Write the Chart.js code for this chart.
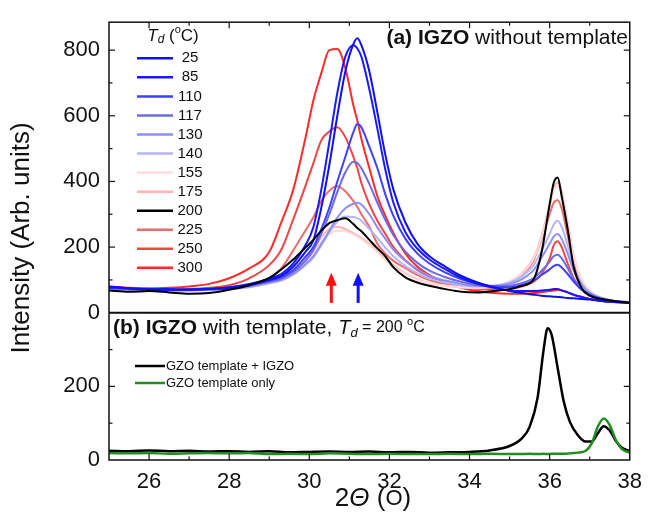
<!DOCTYPE html>
<html lang="en">
<head>
<meta charset="UTF-8" />
<title>IGZO XRD</title>
<style>
  body { margin: 0; background: #fff; }
  canvas { display: block; }
</style>
<script src="https://cdn.jsdelivr.net/npm/chart.js"></script>
</head>
<body>
<canvas id="xrdChart" width="651" height="514"></canvas>
<script>
// ---- panel (a): IGZO without template, one curve per deposition temperature
const twoThetaA = [25, 25.5, 26, 26.5, 27, 27.5, 28, 28.5, 29, 29.3, 29.6, 29.9, 30.1, 30.3, 30.5, 30.7, 30.9,
  31.1, 31.2, 31.3, 31.5, 31.7, 31.9, 32.1, 32.4, 32.7, 33, 33.4, 33.8, 34.2, 34.6, 35,
  35.3, 35.6, 35.8, 36, 36.1, 36.2, 36.3, 36.45, 36.6, 36.8, 37, 37.3, 37.6, 38];

const td25  = [78, 74, 72, 70, 71, 72, 76, 85, 100, 112, 140, 185, 220, 320, 450, 600, 735, 818, 836, 815, 735, 610, 480, 375, 275, 210, 172, 140, 112, 92, 78, 66, 60, 55, 52, 50, 49, 48, 47, 45, 44, 42, 40, 36, 33, 30];
const td85  = [80, 75, 73, 72, 70, 73, 78, 88, 104, 118, 150, 205, 260, 375, 520, 670, 780, 815, 805, 780, 680, 560, 435, 335, 245, 195, 162, 132, 106, 88, 76, 68, 66, 66, 68, 70, 72, 72, 68, 62, 55, 48, 42, 36, 33, 30];
const td110 = [76, 73, 71, 70, 70, 72, 75, 84, 98, 108, 130, 170, 200, 255, 320, 400, 475, 550, 575, 565, 505, 440, 360, 295, 225, 180, 150, 122, 102, 88, 80, 78, 84, 98, 115, 132, 142, 146, 138, 118, 95, 70, 55, 42, 36, 32];
const td117 = [75, 72, 70, 69, 70, 71, 74, 82, 95, 104, 124, 158, 190, 240, 300, 368, 428, 460, 456, 440, 392, 335, 282, 236, 186, 152, 128, 108, 94, 84, 80, 82, 90, 106, 128, 156, 172, 177, 166, 136, 102, 72, 55, 42, 35, 30];
const td130 = [74, 71, 70, 68, 69, 70, 73, 80, 92, 100, 118, 148, 172, 210, 250, 290, 318, 332, 335, 330, 300, 260, 225, 192, 158, 132, 112, 98, 88, 82, 82, 88, 102, 130, 168, 210, 232, 240, 225, 180, 128, 84, 60, 44, 36, 30];
const td140 = [73, 70, 69, 68, 68, 70, 72, 78, 90, 98, 116, 145, 168, 205, 245, 278, 293, 292, 288, 280, 255, 228, 198, 172, 142, 120, 104, 92, 84, 80, 82, 92, 110, 145, 190, 240, 268, 280, 262, 205, 140, 90, 62, 45, 36, 30];
const td155 = [72, 69, 68, 67, 68, 69, 72, 78, 90, 100, 120, 155, 180, 215, 240, 250, 248, 238, 232, 224, 206, 184, 160, 140, 118, 100, 90, 82, 78, 76, 80, 94, 118, 165, 230, 320, 370, 385, 360, 270, 170, 100, 66, 46, 36, 30];
const td175 = [72, 70, 68, 67, 68, 70, 73, 80, 93, 104, 126, 165, 192, 230, 255, 262, 255, 242, 236, 228, 210, 188, 165, 145, 120, 102, 90, 82, 77, 75, 80, 95, 120, 168, 235, 330, 380, 396, 368, 275, 172, 100, 66, 46, 36, 30];
const td200 = [68, 64, 66, 62, 58, 60, 70, 84, 106, 132, 162, 198, 222, 250, 273, 282, 288, 270, 258, 248, 222, 196, 172, 138, 108, 92, 82, 72, 64, 62, 66, 72, 82, 102, 185, 330, 395, 412, 355, 255, 140, 75, 52, 42, 36, 30];
const td225 = [74, 71, 70, 68, 70, 72, 76, 86, 104, 135, 190, 250, 290, 340, 372, 385, 370, 340, 322, 300, 262, 210, 180, 158, 136, 115, 100, 88, 80, 74, 78, 92, 115, 160, 225, 300, 335, 343, 318, 235, 150, 92, 62, 45, 36, 30];
const td250 = [76, 72, 71, 70, 72, 76, 84, 105, 145, 192, 285, 385, 455, 525, 552, 565, 535, 475, 440, 395, 330, 280, 240, 200, 160, 130, 110, 92, 80, 72, 70, 72, 80, 95, 118, 165, 205, 218, 200, 150, 105, 70, 52, 42, 35, 30];
const td300 = [80, 76, 74, 76, 80, 88, 105, 135, 185, 275, 375, 530, 646, 730, 800, 803, 745, 632, 585, 530, 440, 355, 295, 243, 180, 140, 115, 92, 76, 66, 60, 58, 58, 60, 63, 66, 68, 70, 68, 62, 55, 48, 42, 36, 33, 30];

const tdLabels = ['25', '85', '110', '117', '130', '140', '155', '175', '200', '225', '250', '300'];
const tdColors = ['#1010f0', '#1a1aff', '#4040ff', '#6b6be8', '#8f8ff2', '#b5b5f7',
  '#ffdcdc', '#ffb3b3', '#000000', '#ec6b6b', '#f04545', '#ff2a2a'];
const seriesA = [td25, td85, td110, td117, td130, td140, td155, td175, td200, td225, td250, td300];

// ---- panel (b): IGZO on GZO template, Td = 200 C
const twoThetaB = [25, 25.5, 26, 26.5, 27, 27.5, 28, 28.5, 29, 29.5, 30, 30.5, 31, 31.5, 32, 32.5, 33, 33.5, 34, 34.5,
  35, 35.3, 35.5, 35.7, 35.85, 35.95, 36.05, 36.2, 36.35, 36.5, 36.7, 36.9, 37.05, 37.2, 37.35, 37.5, 37.65, 37.8, 38];
const templatePlusIgzo = [25, 24, 26, 24, 25, 23, 24, 22, 24, 21, 22, 23, 22, 23, 21, 22, 20, 21, 22, 26,
  38, 58, 90, 170, 300, 358, 340, 250, 160, 105, 68, 50, 50, 72, 92, 80, 52, 34, 24];
const templateOnly = [19, 18, 19, 17, 18, 19, 18, 19, 16, 17, 16, 18, 17, 16, 17, 16, 16, 17, 16, 17,
  16, 16, 17, 16, 17, 16, 17, 17, 17, 18, 20, 25, 45, 90, 113, 95, 55, 30, 20];
const seriesBLabels = ['GZO template + IGZO', 'GZO template only'];
const seriesBColors = ['#000000', '#228b22'];

// tick labels
const xTickLabels = [26, 28, 30, 32, 34, 36, 38];
const yTopTickLabels = [0, 200, 400, 600, 800];
const yBotTickLabels = [0, 200];

// arrow positions (2theta) under the peaks
const arrowPos = [30.55, 31.22];
const arrowColors = ['#ff1010', '#1010ff'];

const FONT = '"Liberation Sans", Arial, Helvetica, sans-serif';
const f = (size, style) => (style || '') + ' ' + size + 'px ' + FONT;

function drawRuns(ctx, runs, x, y, align) {
  let w = 0;
  runs.forEach(r => { ctx.font = r.font; r.w = ctx.measureText(r.text).width; w += r.w; });
  let cx = align === 'center' ? x - w / 2 : align === 'right' ? x - w : x;
  ctx.textAlign = 'left';
  ctx.textBaseline = 'middle';
  runs.forEach(r => { ctx.font = r.font; ctx.fillText(r.text, cx, y + (r.dy || 0)); cx += r.w; });
}

function line(ctx, x1, y1, x2, y2) {
  ctx.beginPath(); ctx.moveTo(x1, y1); ctx.lineTo(x2, y2); ctx.stroke();
}

// frame, inward ticks, legends, labels
const decorations = {
  id: 'decorations',
  afterDraw(chart) {
    const ctx = chart.ctx;
    const a = chart.chartArea;
    const x = chart.scales.x, yT = chart.scales.yTop, yB = chart.scales.yBot;
    const mid = yT.getPixelForValue(0);
    ctx.save();
    ctx.strokeStyle = '#111';
    ctx.lineWidth = 1.5;
    ctx.strokeRect(a.left, a.top, a.right - a.left, a.bottom - a.top);
    ctx.lineWidth = 2;
    line(ctx, a.left, mid, a.right, mid);

    ctx.lineWidth = 1.2;
    for (let v = 26; v < 38; v++) {
      const px = x.getPixelForValue(v);
      const len = v % 2 === 0 ? 6 : 3.5;
      line(ctx, px, a.bottom, px, a.bottom - len);
      line(ctx, px, a.top, px, a.top + len);
    }
    for (let v = 100; v <= 800; v += 100) {
      const py = yT.getPixelForValue(v);
      const len = v % 200 === 0 ? 6 : 3.5;
      line(ctx, a.left, py, a.left + len, py);
      line(ctx, a.right, py, a.right - len, py);
    }
    for (let v = 100; v <= 300; v += 100) {
      const py = yB.getPixelForValue(v);
      const len = v % 200 === 0 ? 6 : 3.5;
      line(ctx, a.left, py, a.left + len, py);
      line(ctx, a.right, py, a.right - len, py);
    }

    // arrows
    arrowPos.forEach((p, i) => {
      const px = x.getPixelForValue(p);
      const yTip = yT.getPixelForValue(122);
      const yBase = yT.getPixelForValue(30);
      ctx.strokeStyle = arrowColors[i];
      ctx.fillStyle = arrowColors[i];
      ctx.lineWidth = 3;
      line(ctx, px, yBase, px, yTip + 10);
      ctx.beginPath();
      ctx.moveTo(px, yTip);
      ctx.lineTo(px - 5.5, yTip + 13);
      ctx.lineTo(px + 5.5, yTip + 13);
      ctx.closePath();
      ctx.fill();
    });

    ctx.fillStyle = '#111';
    // panel titles
    drawRuns(ctx, [
      { text: '(a) IGZO', font: f(21, 'bold') },
      { text: ' without template', font: f(21) }
    ], 628, 38, 'right');
    drawRuns(ctx, [
      { text: '(b) IGZO', font: f(21, 'bold') },
      { text: ' with template, ', font: f(21) },
      { text: 'T', font: f(20, 'italic') },
      { text: 'd', font: f(13, 'italic'), dy: 5 },
      { text: ' = 200 ', font: f(16) },
      { text: 'o', font: f(11), dy: -6 },
      { text: 'C', font: f(16) }
    ], 113, 328, 'left');

    // legend (a)
    drawRuns(ctx, [
      { text: 'T', font: f(17, 'italic') },
      { text: 'd', font: f(12, 'italic'), dy: 4 },
      { text: ' (', font: f(17) },
      { text: 'o', font: f(11), dy: -6 },
      { text: 'C)', font: f(17) }
    ], 173, 36, 'center');
    tdLabels.forEach((lab, i) => {
      const ly = 58.3 + i * 19.05;
      ctx.strokeStyle = tdColors[i];
      ctx.lineWidth = 2.5;
      line(ctx, 137, ly, 173, ly);
      ctx.fillStyle = '#111';
      ctx.font = f(15);
      ctx.textAlign = 'center';
      ctx.textBaseline = 'middle';
      ctx.fillText(lab, 190, ly);
    });

    // legend (b)
    seriesBLabels.forEach((lab, i) => {
      const ly = 366 + i * 17;
      ctx.strokeStyle = seriesBColors[i];
      ctx.lineWidth = 2.5;
      line(ctx, 135, ly, 165, ly);
      ctx.fillStyle = '#111';
      ctx.font = f(13);
      ctx.textAlign = 'left';
      ctx.textBaseline = 'middle';
      ctx.fillText(lab, 166, ly);
    });

    // axis titles
    ctx.fillStyle = '#111';
    drawRuns(ctx, [
      { text: '2', font: f(26) },
      { text: 'Θ', font: f(26, 'italic') },
      { text: ' (', font: f(26) },
      { text: 'O', font: f(22) },
      { text: ')', font: f(26) }
    ], 373, 499, 'center');
    ctx.save();
    ctx.translate(22, 238);
    ctx.rotate(-Math.PI / 2);
    drawRuns(ctx, [{ text: 'Intensity (Arb. units)', font: f(26) }], 0, 0, 'center');
    ctx.restore();
    ctx.restore();
  }
};

const datasets = seriesA.map((vals, i) => ({
  label: tdLabels[i],
  data: vals.map((v, j) => ({ x: twoThetaA[j], y: v })),
  borderColor: tdColors[i],
  borderWidth: 2,
  pointRadius: 0,
  cubicInterpolationMode: 'monotone',
  yAxisID: 'yTop',
  order: tdLabels[i] === '200' ? 0 : 1
}));
[templatePlusIgzo, templateOnly].forEach((vals, i) => {
  datasets.push({
    label: seriesBLabels[i],
    data: vals.map((v, j) => ({ x: twoThetaB[j], y: v })),
    borderColor: seriesBColors[i],
    borderWidth: 2.5,
    pointRadius: 0,
    cubicInterpolationMode: 'monotone',
    yAxisID: 'yBot',
    order: i === 0 ? 1 : 0
  });
});

new Chart(document.getElementById('xrdChart'), {
  type: 'line',
  data: { datasets: datasets },
  options: {
    responsive: false,
    animation: false,
    layout: { padding: { top: 14, right: 13, left: 0, bottom: 0 } },
    plugins: { legend: { display: false }, tooltip: { enabled: false } },
    scales: {
      x: {
        type: 'linear', min: 25, max: 38,
        grid: { display: false, drawTicks: false },
        border: { display: false },
        ticks: {
          stepSize: 1, autoSkip: false, maxRotation: 0, padding: 9, includeBounds: false,
          color: '#111', font: { size: 22, family: FONT },
          callback: v => xTickLabels.includes(v) ? v : null
        },
        afterFit: s => { s.height = 54; }
      },
      // the stack is laid out from the last defined axis downwards
      yBot: {
        type: 'linear', position: 'left', stack: 'panels', stackWeight: 150,
        min: 0, max: 400,
        grid: { display: false, drawTicks: false },
        border: { display: false },
        ticks: {
          stepSize: 100, autoSkip: false, padding: 9, includeBounds: false,
          color: '#111', font: { size: 22, family: FONT },
          callback: v => yBotTickLabels.includes(v) ? v : null
        },
        afterFit: s => { s.width = 109; }
      },
      yTop: {
        type: 'linear', position: 'left', stack: 'panels', stackWeight: 296,
        min: 0, max: 885,
        grid: { display: false, drawTicks: false },
        border: { display: false },
        ticks: {
          stepSize: 100, autoSkip: false, padding: 9, includeBounds: false,
          color: '#111', font: { size: 22, family: FONT },
          callback: v => yTopTickLabels.includes(v) ? v : null
        },
        afterFit: s => { s.width = 109; }
      }
    }
  },
  plugins: [decorations]
});
</script>
</body>
</html>
